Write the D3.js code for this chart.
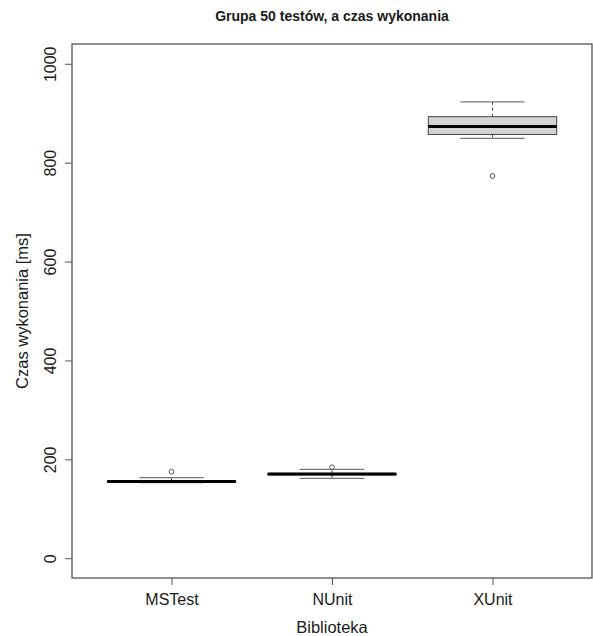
<!DOCTYPE HTML>
<html>
<head>
<meta charset="utf-8">
<script src="https://cdnjs.cloudflare.com/ajax/libs/d3/7.8.5/d3.min.js"></script>
<style>
  body { margin: 0; background: #fff; }
  text { font-family: "Liberation Sans", Arial, sans-serif; fill: #1a1a1a; }
</style>
</head>
<body>
<svg id="chart" width="593" height="636"></svg>
<script>
// libraries on the x axis
const libraries = ["MSTest", "NUnit", "XUnit"];
// five-number summaries (ms)
const whiskerLow  = [153, 161.6, 849];
const quartile1   = [154, 168.5, 857];
const medians     = [155, 170.3, 873];
const quartile3   = [156, 171.5, 893];
const whiskerHigh = [163, 179.8, 923];
// outliers, one list per library
const outliers = [[175], [184], [773]];
const yTicks = [0, 200, 400, 600, 800, 1000];

const svg = d3.select("#chart");
const plotLeft = 72, plotRight = 592, plotTop = 44, plotBottom = 578;

// R style: 4% padding around the range
const x = d3.scaleLinear().domain([0.38, 3.62]).range([plotLeft, plotRight]);
const y = d3.scaleLinear().domain([-40, 1040]).range([plotBottom, plotTop]);
const halfBox = x(0.4) - x(0);

const boxes = libraries.map((name, i) => ({
  name: name, pos: i + 1,
  lo: whiskerLow[i], q1: quartile1[i], med: medians[i],
  q3: quartile3[i], hi: whiskerHigh[i], out: outliers[i]
}));

const g = svg.append("g");
const box = g.selectAll("g.box").data(boxes).enter().append("g").attr("class", "box");

// whiskers (dashed)
box.append("line")
  .attr("x1", d => x(d.pos)).attr("x2", d => x(d.pos))
  .attr("y1", d => y(d.q3)).attr("y2", d => y(d.hi))
  .attr("stroke", "#444").attr("stroke-dasharray", "3,3");
box.append("line")
  .attr("x1", d => x(d.pos)).attr("x2", d => x(d.pos))
  .attr("y1", d => y(d.q1)).attr("y2", d => y(d.lo))
  .attr("stroke", "#444").attr("stroke-dasharray", "3,3");
// staples
box.selectAll("line.staple").data(d => [d.lo, d.hi].map(v => ({ pos: d.pos, v: v })))
  .enter().append("line").attr("class", "staple")
  .attr("x1", d => x(d.pos) - halfBox / 2).attr("x2", d => x(d.pos) + halfBox / 2)
  .attr("y1", d => y(d.v)).attr("y2", d => y(d.v))
  .attr("stroke", "#777").attr("stroke-width", 1.2);
// box
box.append("rect")
  .attr("x", d => x(d.pos) - halfBox).attr("width", 2 * halfBox)
  .attr("y", d => y(d.q3)).attr("height", d => y(d.q1) - y(d.q3))
  .attr("fill", "#d3d3d3").attr("stroke", "#444").attr("stroke-width", 1);
// median
box.append("line")
  .attr("x1", d => x(d.pos) - halfBox).attr("x2", d => x(d.pos) + halfBox)
  .attr("y1", d => y(d.med)).attr("y2", d => y(d.med))
  .attr("stroke", "#000").attr("stroke-width", 3);
// outliers
box.selectAll("circle").data(d => d.out.map(v => ({ pos: d.pos, v: v })))
  .enter().append("circle")
  .attr("cx", d => x(d.pos)).attr("cy", d => y(d.v)).attr("r", 2.4)
  .attr("fill", "none").attr("stroke", "#555").attr("stroke-width", 1);

// frame
svg.append("rect")
  .attr("x", plotLeft).attr("y", plotTop)
  .attr("width", plotRight - plotLeft).attr("height", plotBottom - plotTop)
  .attr("fill", "none").attr("stroke", "#555").attr("stroke-width", 1.3);

// y axis
const yAxis = svg.append("g").attr("transform", "translate(" + plotLeft + ",0)")
  .call(d3.axisLeft(y).tickValues(yTicks).tickSize(7).tickFormat(d3.format("d")));
yAxis.select(".domain").remove();
yAxis.selectAll(".tick line").attr("stroke", "#555");
yAxis.selectAll(".tick text")
  .attr("transform", "rotate(-90)")
  .attr("x", 0).attr("y", -16).attr("dy", "0")
  .attr("text-anchor", "middle").style("font-size", "16px")
  .style("font-family", "'Liberation Sans', Arial, sans-serif").attr("fill", "#1a1a1a");

// x axis
const xAxis = svg.append("g").attr("transform", "translate(0," + plotBottom + ")")
  .call(d3.axisBottom(x).tickValues([1, 2, 3]).tickSize(7).tickFormat(d => libraries[d - 1]));
xAxis.select(".domain").remove();
xAxis.selectAll(".tick line").attr("stroke", "#555");
xAxis.selectAll(".tick text")
  .attr("y", 27).attr("dy", "0")
  .style("font-size", "16px")
  .style("font-family", "'Liberation Sans', Arial, sans-serif").attr("fill", "#1a1a1a");

// titles
svg.append("text").attr("x", (plotLeft + plotRight) / 2).attr("y", 21)
  .attr("text-anchor", "middle").style("font-size", "14px").style("font-weight", "bold")
  .text("Grupa 50 testów, a czas wykonania");
svg.append("text").attr("x", (plotLeft + plotRight) / 2).attr("y", 633)
  .attr("text-anchor", "middle").style("font-size", "16.5px")
  .text("Biblioteka");
svg.append("text")
  .attr("transform", "translate(28," + (plotTop + plotBottom) / 2 + ") rotate(-90)")
  .attr("text-anchor", "middle").style("font-size", "16.5px")
  .text("Czas wykonania [ms]");
</script>
</body>
</html>
